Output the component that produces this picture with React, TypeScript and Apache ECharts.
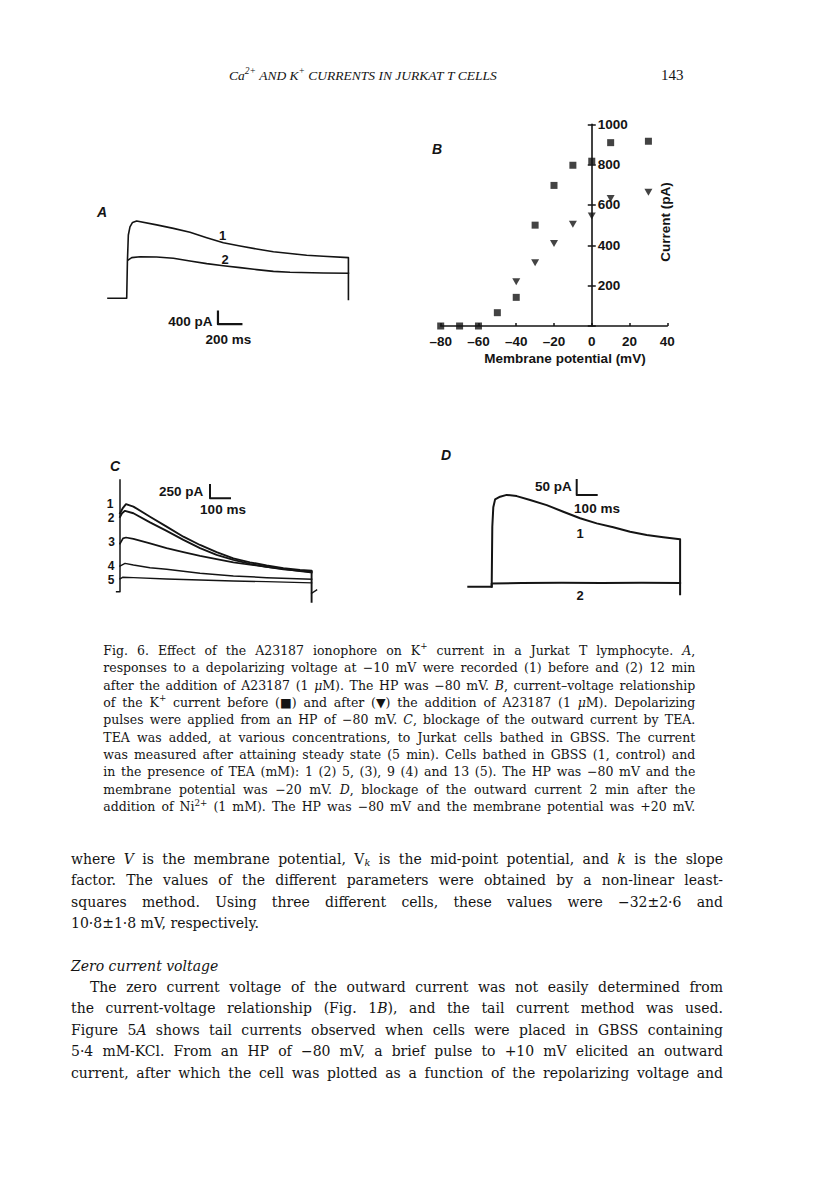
import React, { useEffect, useRef } from "react";
import * as echarts from "echarts";

const INK = "#141414";
const SERIF = "DejaVu Serif";
const HEAD_SERIF = "Liberation Serif";
const SANS = "Liberation Sans";

// ---------- Panel A: current traces (time ms, current pA) ----------
const traceA1: number[][] = [[-160, 0], [0, 0], [6, 1160], [14, 2010], [28, 2270], [50, 2410], [85, 2455], [256, 2330], [399, 2220], [541, 2095], [684, 1925], [826, 1765], [969, 1660], [1111, 1565], [1254, 1480], [1396, 1420], [1538, 1365], [1681, 1335], [1895, 1290], [1895, -40]];
const traceA2: number[][] = [[14, 1220], [43, 1290], [114, 1320], [256, 1310], [399, 1270], [541, 1185], [684, 1100], [826, 1035], [969, 975], [1111, 910], [1254, 855], [1396, 825], [1681, 805], [1895, 795]];
const scaleBarA: number[][] = [[780, -420], [780, -820], [980, -820]]; // 400 pA, 200 ms

// ---------- Panel B: current-voltage relation ----------
const ivBefore: number[][] = [[-80, 0], [-70, 0], [-60, 0], [-50, 66], [-40, 142], [-30, 500], [-20, 697], [-10, 797], [0, 817], [10, 909], [30, 916]];
const ivAfter: number[][] = [[-40, 219], [-30, 313], [-20, 409], [-10, 505], [0, 545], [10, 632], [30, 663]];
const bVoltageRange = [-80, 40];
const bCurrentRange = [0, 1000];

// ---------- Panel C: TEA block ----------
const transientC: number[][] = [[-17, 0], [0, 0], [0, 2095]];
const traceC1: number[][] = [[0, 1470], [13, 1560], [30, 1640], [67, 1595], [150, 1405], [233, 1220], [317, 1030], [400, 875], [483, 740], [567, 625], [650, 550], [733, 490], [817, 440], [900, 405], [958, 395], [958, -190]];
const traceC2: number[][] = [[0, 1400], [10, 1470], [25, 1515], [67, 1470], [150, 1300], [233, 1140], [317, 970], [400, 815], [483, 690], [567, 595], [650, 520], [733, 465], [817, 420], [900, 390], [958, 375]];
const traceC3: number[][] = [[0, 900], [15, 1000], [30, 1015], [67, 990], [150, 905], [233, 815], [317, 740], [400, 670], [483, 610], [567, 550], [650, 505], [733, 465], [817, 425], [900, 385], [958, 360]];
const traceC4: number[][] = [[0, 480], [25, 530], [67, 500], [150, 450], [233, 420], [400, 345], [567, 295], [733, 263], [958, 235]];
const traceC5: number[][] = [[0, 240], [13, 269], [67, 263], [233, 238], [400, 219], [567, 200], [733, 188], [958, 165]];
const tailC: number[][] = [[958, -30], [983, 30]];
const scaleBarC: number[][] = [[450, 2000], [450, 1750], [550, 1750]]; // 250 pA, 100 ms

// ---------- Panel D: Ni2+ block ----------
const traceD1: number[][] = [[-117, 0], [0, 0], [3, 200], [8, 265], [17, 291], [42, 300], [75, 306], [125, 302], [192, 289], [275, 272], [358, 250], [442, 228], [525, 211], [608, 198], [692, 183], [775, 172], [858, 165], [942, 158], [942, -25]];
const traceD2: number[][] = [[0, 0], [0, 11], [150, 12], [350, 13], [550, 12], [750, 13], [942, 12]];
const scaleBarD: number[][] = [[425, 356], [425, 306], [525, 306]]; // 50 pA, 100 ms

// ---------- Page text ----------
const runningHead = "*Ca^2+^ AND K^+^ CURRENTS IN JURKAT T CELLS*";
const pageNumber = "143";
const captionLines: string[] = [
  "Fig. 6. Effect of the A23187 ionophore on K^+^ current in a Jurkat T lymphocyte. *A*,",
  "responses to a depolarizing voltage at −10 mV were recorded (1) before and (2) 12 min",
  "after the addition of A23187 (1 *μ*M). The HP was −80 mV. *B*, current–voltage relationship",
  "of the K^+^ current before (■) and after (▼) the addition of A23187 (1 *μ*M). Depolarizing",
  "pulses were applied from an HP of −80 mV. *C*, blockage of the outward current by TEA.",
  "TEA was added, at various concentrations, to Jurkat cells bathed in GBSS. The current",
  "was measured after attaining steady state (5 min). Cells bathed in GBSS (1, control) and",
  "in the presence of TEA (mM): 1 (2) 5, (3), 9 (4) and 13 (5). The HP was −80 mV and the",
  "membrane potential was −20 mV. *D*, blockage of the outward current 2 min after the",
  "addition of Ni^2+^ (1 mM). The HP was −80 mV and the membrane potential was +20 mV.",
];
const bodyLines: string[] = [
  "where *V* is the membrane potential, V_k_ is the mid-point potential, and *k* is the slope",
  "factor. The values of the different parameters were obtained by a non-linear least-",
  "squares method. Using three different cells, these values were −32±2·6 and",
  "10·8±1·8 mV, respectively.",
  "",
  "*Zero current voltage*",
  "The zero current voltage of the outward current was not easily determined from",
  "the current-voltage relationship (Fig. 1*B*), and the tail current method was used.",
  "Figure 5*A* shows tail currents observed when cells were placed in GBSS containing",
  "5·4 mM-KCl. From an HP of −80 mV, a brief pulse to +10 mV elicited an outward",
  "current, after which the cell was plotted as a function of the repolarizing voltage and",
];
const bodyJustify = [true, true, true, false, false, false, true, true, true, true, true];
const bodyIndent = [0, 0, 0, 0, 0, 0, 19, 0, 0, 0, 0];

// ---------- text layout helpers ----------
let _ctx: CanvasRenderingContext2D | null = null;
function measure(text: string, size: number, italic: boolean, family = SERIF, bold = false): number {
  if (!_ctx) _ctx = document.createElement("canvas").getContext("2d");
  const c = _ctx as CanvasRenderingContext2D;
  c.font = `${italic ? "italic" : "normal"} ${bold ? "bold" : "normal"} ${size}px ${family}`;
  return c.measureText(text).width;
}

type Seg = { t: string; it: boolean; sup: boolean; sub: boolean };

function parseLine(line: string): Seg[][] {
  const words = line.split(" ");
  const out: Seg[][] = [];
  let carryIt = false;
  for (const w of words) {
    const segs: Seg[] = [];
    let it = carryIt, sup = false, sub = false, cur = "";
    const push = () => {
      if (cur) segs.push({ t: cur, it: it || sub, sup, sub });
      cur = "";
    };
    for (const ch of w) {
      if (ch === "*") { push(); it = !it; }
      else if (ch === "^") { push(); sup = !sup; }
      else if (ch === "_") { push(); sub = !sub; }
      else cur += ch;
    }
    push();
    carryIt = it;
    out.push(segs);
  }
  return out;
}

function textLine(line: string, x: number, y: number, size: number, width: number | null, justify: boolean, family = SERIF): any[] {
  if (!line) return [];
  const words = parseLine(line);
  const segSize = (s: Seg) => (s.sup || s.sub ? size * 0.7 : size);
  const segW = (s: Seg) => measure(s.t, segSize(s), s.it, family);
  const wordW = words.map((ws) => ws.reduce((a, s) => a + segW(s), 0));
  const total = wordW.reduce((a, b) => a + b, 0);
  let gap = measure(" ", size, false, family);
  if (justify && width && words.length > 1) gap = Math.max(1.5, (width - total) / (words.length - 1));
  const els: any[] = [];
  let cx = x;
  words.forEach((ws) => {
    ws.forEach((s) => {
      const sz = segSize(s);
      const dy = s.sup ? -size * 0.33 : s.sub ? size * 0.25 : 0;
      els.push({
        type: "text",
        x: cx,
        y: y + dy,
        silent: true,
        style: {
          text: s.t,
          fill: INK,
          fontFamily: family,
          fontSize: sz,
          fontStyle: s.it ? "italic" : "normal",
          fontWeight: "normal",
          align: "left",
          textAlign: "left",
          verticalAlign: "middle",
          textVerticalAlign: "middle",
        },
      });
      cx += segW(s);
    });
    cx += gap;
  });
  return els;
}

function fitLine(line: string, x: number, y: number, width: number, baseSize: number, family: string): any[] {
  const words = parseLine(line);
  let w = 0;
  words.forEach((ws, i) => {
    ws.forEach((s) => (w += measure(s.t, s.sup || s.sub ? baseSize * 0.7 : baseSize, s.it, family)));
    if (i < words.length - 1) w += measure(" ", baseSize, false, family);
  });
  const size = baseSize * (width / w);
  return textLine(line, x, y, size, null, false, family);
}

function label(text: string, x: number, y: number, o: { size?: number; italic?: boolean; align?: string; rot?: number; bold?: boolean } = {}) {
  const align = o.align ?? "center";
  return {
    type: "text",
    x,
    y,
    rotation: o.rot ?? 0,
    silent: true,
    style: {
      text,
      fill: INK,
      fontFamily: SANS,
      fontWeight: o.bold === false ? "normal" : "bold",
      fontStyle: o.italic ? "italic" : "normal",
      fontSize: o.size ?? 14,
      align,
      textAlign: align,
      verticalAlign: "middle",
      textVerticalAlign: "middle",
    },
  };
}

function lineSeries(data: number[][], xi: number, yi: number, width: number) {
  return {
    type: "line",
    xAxisIndex: xi,
    yAxisIndex: yi,
    data,
    showSymbol: false,
    symbol: "none",
    silent: true,
    clip: false,
    lineStyle: { color: INK, width, cap: "square", join: "round" },
  };
}

function hiddenAxis(gridIndex: number, min: number, max: number) {
  return { type: "value", gridIndex, min, max, show: false, splitLine: { show: false } };
}

const GRID_B = { left: 440.7, top: 124.3, width: 226.6, height: 201.7 };

function buildOption() {
  const graphics: any[] = [];

  // running head & page number
  graphics.push(...fitLine(runningHead, 229, 75, 268, 14, HEAD_SERIF));
  graphics.push(...textLine(pageNumber, 661, 75, 15, null, false, HEAD_SERIF));

  // caption
  captionLines.forEach((ln, i) => {
    graphics.push(...textLine(ln, 103.3, 650.5 + i * 17.35, 12.5, 592, true));
  });

  // body
  bodyLines.forEach((ln, i) => {
    const x = 71 + bodyIndent[i];
    graphics.push(...textLine(ln, x, 859 + i * 21.35, 14, 723 - x, bodyJustify[i]));
  });

  // panel letters
  graphics.push(label("A", 102, 212, { italic: true, size: 14 }));
  graphics.push(label("B", 437, 149, { italic: true, size: 14 }));
  graphics.push(label("C", 115, 466, { italic: true, size: 14 }));
  graphics.push(label("D", 446, 455, { italic: true, size: 14 }));

  // panel A annotations
  graphics.push(label("1", 222.7, 235.7, { size: 13 }));
  graphics.push(label("2", 225, 259, { size: 13 }));
  graphics.push(label("400 pA", 190.3, 321, { size: 13.5 }));
  graphics.push(label("200 ms", 228.3, 339.3, { size: 13.5 }));

  // panel B axis titles
  graphics.push(label("Current (pA)", 665, 222, { size: 13.5, rot: Math.PI / 2 }));
  graphics.push(label("Membrane potential (mV)", 565, 358, { size: 13.5 }));

  // panel C annotations
  const cNums = [[110, 503.5], [111, 517.5], [111.7, 541.7], [111, 565.7], [111, 580]];
  cNums.forEach((p, i) => graphics.push(label(String(i + 1), p[0], p[1], { size: 12 })));
  graphics.push(label("250 pA", 181.2, 491, { size: 13.5 }));
  graphics.push(label("100 ms", 223, 509, { size: 13.5 }));

  // panel D annotations
  graphics.push(label("1", 580, 533.3, { size: 13 }));
  graphics.push(label("2", 580, 595, { size: 13 }));
  graphics.push(label("50 pA", 553.3, 486.7, { size: 13.5 }));
  graphics.push(label("100 ms", 597, 508.3, { size: 13.5 }));

  const axisText = { color: INK, fontFamily: SANS, fontWeight: "bold", fontSize: 13.5 };
  // the current axis of panel B crosses the voltage axis at 0 mV
  const yOffsetB = -((0 - bVoltageRange[0]) / (bVoltageRange[1] - bVoltageRange[0])) * GRID_B.width;

  return {
    animation: false,
    backgroundColor: "#ffffff",
    grid: [
      { left: 103.3, top: 210.1, width: 280.8, height: 126, containLabel: false, outerBoundsMode: "none" },
      { ...GRID_B, containLabel: false, outerBoundsMode: "none" },
      { left: 100, top: 474.3, width: 240, height: 138.7, containLabel: false, outerBoundsMode: "none" },
      { left: 451.7, top: 472.7, width: 260, height: 132, containLabel: false, outerBoundsMode: "none" },
    ],
    xAxis: [
      hiddenAxis(0, -200, 2200),
      {
        type: "value",
        gridIndex: 1,
        min: bVoltageRange[0],
        max: bVoltageRange[1],
        interval: 20,
        axisLine: { show: true, onZero: false, lineStyle: { color: INK, width: 1.6 } },
        axisTick: { show: true, inside: true, length: 3, lineStyle: { color: INK, width: 1.5 } },
        axisLabel: {
          ...axisText,
          margin: 8,
          formatter: (v: number) => (v < 0 ? "–" + Math.abs(v) : String(v)),
        },
        splitLine: { show: false },
      },
      hiddenAxis(2, -100, 1100),
      hiddenAxis(3, -200, 1100),
    ],
    yAxis: [
      hiddenAxis(0, -1200, 2800),
      {
        type: "value",
        gridIndex: 1,
        min: bCurrentRange[0],
        max: bCurrentRange[1],
        interval: 200,
        position: "left",
        offset: yOffsetB,
        axisLine: { show: true, onZero: false, lineStyle: { color: INK, width: 1.6 } },
        axisTick: { show: true, inside: false, length: 4, lineStyle: { color: INK, width: 1.5 } },
        axisLabel: {
          ...axisText,
          inside: true,
          margin: 6,
          formatter: (v: number) => (v === 0 ? "" : String(v)),
        },
        splitLine: { show: false },
      },
      {
        type: "value",
        gridIndex: 1,
        min: bCurrentRange[0],
        max: bCurrentRange[1],
        interval: 200,
        position: "left",
        offset: yOffsetB,
        axisLine: { show: false, onZero: false },
        axisTick: { show: true, inside: true, length: 4, lineStyle: { color: INK, width: 1.5 } },
        axisLabel: { show: false },
        splitLine: { show: false },
      },
      hiddenAxis(2, -400, 2200),
      hiddenAxis(3, -60, 380),
    ],
    series: [
      // A
      lineSeries(traceA1, 0, 0, 1.6),
      lineSeries(traceA2, 0, 0, 1.6),
      lineSeries(scaleBarA, 0, 0, 2.2),
      // B
      {
        type: "scatter",
        xAxisIndex: 1,
        yAxisIndex: 1,
        data: ivBefore,
        symbol: "rect",
        symbolSize: 7,
        itemStyle: { color: INK },
        silent: true,
      },
      {
        type: "scatter",
        xAxisIndex: 1,
        yAxisIndex: 1,
        data: ivAfter,
        symbol: "triangle",
        symbolRotate: 180,
        symbolSize: [8, 7],
        itemStyle: { color: INK },
        silent: true,
      },
      // C
      lineSeries(transientC, 2, 3, 1.5),
      lineSeries(traceC1, 2, 3, 1.9),
      lineSeries(traceC2, 2, 3, 1.9),
      lineSeries(traceC3, 2, 3, 1.7),
      lineSeries(traceC4, 2, 3, 1.5),
      lineSeries(traceC5, 2, 3, 1.4),
      lineSeries(tailC, 2, 3, 1.4),
      lineSeries(scaleBarC, 2, 3, 2),
      // D
      lineSeries(traceD1, 3, 4, 2),
      lineSeries(traceD2, 3, 4, 2),
      lineSeries(scaleBarD, 3, 4, 2),
    ],
    graphic: { elements: graphics },
  };
}

export default function App() {
  const ref = useRef<HTMLDivElement>(null);
  useEffect(() => {
    if (!ref.current) return;
    const chart = echarts.init(ref.current, null, { renderer: "svg" });
    chart.setOption(buildOption() as any);
    return () => chart.dispose();
  }, []);
  return (
    <div
      ref={ref}
      style={{ position: "absolute", left: 0, top: 0, width: 816, height: 1183, background: "#ffffff" }}
    />
  );
}
